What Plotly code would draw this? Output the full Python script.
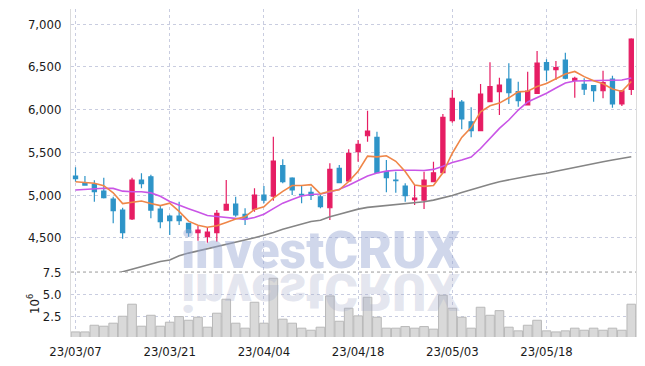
import plotly.graph_objects as go

dates = ["23/03/07", "23/03/08", "23/03/09", "23/03/10", "23/03/13", "23/03/14", "23/03/15", "23/03/16", "23/03/17", "23/03/20",
         "23/03/21", "23/03/22", "23/03/23", "23/03/24", "23/03/27", "23/03/28", "23/03/29", "23/03/30", "23/03/31", "23/04/03",
         "23/04/04", "23/04/05", "23/04/06", "23/04/07", "23/04/10", "23/04/11", "23/04/12", "23/04/13", "23/04/14", "23/04/17",
         "23/04/18", "23/04/19", "23/04/20", "23/04/21", "23/04/24", "23/04/25", "23/04/26", "23/04/27", "23/04/28", "23/05/02",
         "23/05/03", "23/05/04", "23/05/08", "23/05/09", "23/05/10", "23/05/11", "23/05/12", "23/05/15", "23/05/16", "23/05/17",
         "23/05/18", "23/05/19", "23/05/22", "23/05/23", "23/05/24", "23/05/25", "23/05/26", "23/05/30", "23/05/31", "23/06/01"]

opens = [5222, 5140, 5125, 5047, 4953, 4824, 4719, 5176, 5214, 4836,
         4754, 4754, 4669, 4559, 4512, 4559, 4824, 4895, 4774, 4836,
         5000, 4988, 5343, 5199, 5008, 5032, 4980, 4851, 5313, 5164,
         5507, 5694, 5676, 5273, 5176, 5105, 4945, 4941, 5156, 5261,
         5870, 6089, 5858, 5753, 6093, 6210, 6358, 6210, 6054, 6191,
         6549, 6467, 6581, 6343, 6296, 6280, 6221, 6358, 6066, 6238]
highs = [5324, 5222, 5172, 5203, 4980, 4851, 5203, 5254, 5238, 4883,
         4770, 4922, 4669, 4637, 4622, 4824, 5176, 4980, 4844, 5078,
         5105, 5683, 5418, 5207, 5105, 5090, 5000, 5371, 5351, 5535,
         5644, 5987, 5741, 5410, 5273, 5137, 5117, 5273, 5390, 5949,
         6230, 6112, 6027, 6300, 6554, 6374, 6542, 6327, 6444, 6686,
         6589, 6569, 6666, 6386, 6367, 6288, 6456, 6397, 6230, 6835]
lows = [5156, 5109, 4922, 4960, 4669, 4488, 4707, 5078, 4727, 4610,
        4532, 4649, 4512, 4465, 4441, 4453, 4816, 4746, 4649, 4805,
        4903, 4933, 5137, 5000, 4903, 4941, 4844, 4707, 5137, 5156,
        5390, 5624, 5254, 5032, 5027, 4922, 4883, 4836, 5156, 5261,
        5847, 5769, 5676, 5753, 6093, 5937, 6066, 6034, 6054, 6191,
        6335, 6347, 6355, 6139, 6171, 6093, 6132, 6022, 6042, 6171]
closes = [5191, 5117, 5039, 4968, 4816, 4559, 5176, 5132, 4824, 4687,
          4699, 4699, 4559, 4590, 4567, 4786, 4891, 4766, 4719, 5000,
          4941, 5398, 5156, 5059, 5000, 4996, 4863, 5301, 5144, 5488,
          5594, 5749, 5261, 5203, 5168, 4992, 4965, 5176, 5261, 5910,
          6132, 5890, 5753, 6183, 6268, 6288, 6198, 6104, 6218, 6546,
          6464, 6491, 6367, 6367, 6241, 6221, 6315, 6066, 6221, 6827]

ma5 = [5156, 5148, 5137, 5110, 5026, 4900, 4912, 4930, 4901, 4876,
       4904, 4808, 4694, 4647, 4623, 4640, 4679, 4720, 4746, 4832,
       4863, 4965, 5043, 5111, 5111, 5122, 5015, 5044, 5061, 5158,
       5278, 5455, 5447, 5459, 5395, 5275, 5118, 5101, 5112, 5261,
       5489, 5674, 5789, 5974, 6045, 6076, 6138, 6208, 6215, 6271,
       6306, 6365, 6417, 6447, 6386, 6337, 6302, 6242, 6213, 6330]
ma20 = [5059, 5068, 5076, 5080, 5078, 5045, 5039, 5039, 5025, 4985,
        4925, 4880, 4840, 4800, 4760, 4748, 4739, 4725, 4715, 4736,
        4775, 4840, 4905, 4948, 4988, 5006, 5012, 5035, 5068, 5115,
        5170, 5222, 5258, 5280, 5290, 5294, 5290, 5287, 5300, 5338,
        5380, 5410, 5445, 5545, 5665, 5780, 5878, 5995, 6089, 6136,
        6191, 6253, 6311, 6335, 6337, 6337, 6337, 6337, 6347, 6370]
ma60 = [3950, 3980, 4010, 4040, 4070, 4100, 4135, 4165, 4195, 4222,
        4240, 4290, 4320, 4345, 4370, 4395, 4420, 4445, 4470, 4500,
        4530, 4560, 4600, 4630, 4665, 4690, 4705, 4745, 4775, 4805,
        4835, 4855, 4865, 4880, 4890, 4900, 4912, 4922, 4940, 4965,
        4995, 5030, 5059, 5090, 5125, 5156, 5180, 5200, 5220, 5240,
        5254, 5278, 5302, 5326, 5350, 5370, 5390, 5410, 5430, 5449]

volume_m = [0.78, 0.78, 1.53, 1.42, 1.76, 2.54, 3.89, 1.42, 2.65, 1.42,
            1.87, 2.50, 2.09, 2.43, 1.31, 2.88, 4.45, 1.76, 1.20, 4.11,
            1.76, 6.80, 2.21, 1.76, 1.20, 0.97, 1.31, 4.82, 1.98, 3.44,
            2.58, 4.67, 2.43, 1.20, 1.20, 1.38, 1.20, 1.38, 1.09, 4.90,
            3.44, 2.43, 1.20, 3.55, 2.65, 3.17, 1.31, 0.90, 1.53, 2.09,
            0.90, 0.78, 0.90, 1.20, 0.97, 1.20, 0.97, 1.20, 0.97, 3.89]

tick_idx = [0, 10, 20, 30, 40, 50]
price_ticks = [4500, 5000, 5500, 6000, 6500, 7000]
vol_ticks = [2.5, 5.0, 7.5]

UP = "#e61d63"
DOWN = "#2e94c8"
GRID = "#c9cde0"
FONT = "DejaVu Sans Condensed, DejaVu Sans, sans-serif"
TICKFONT = dict(family=FONT, size=13, color="#1a1a1a")

fig = go.Figure()
fig.add_trace(go.Candlestick(
    x=dates, open=opens, high=highs, low=lows, close=closes,
    increasing=dict(line=dict(color=UP, width=1.2), fillcolor=UP),
    decreasing=dict(line=dict(color=DOWN, width=1.2), fillcolor=DOWN),
    whiskerwidth=0, xaxis="x", yaxis="y", showlegend=False))
fig.add_trace(go.Scatter(x=dates, y=ma60, mode="lines", line=dict(color="#858585", width=1.6),
                         xaxis="x", yaxis="y", showlegend=False))
fig.add_trace(go.Scatter(x=dates, y=ma20, mode="lines", line=dict(color="#c955e6", width=1.6),
                         xaxis="x", yaxis="y", showlegend=False))
fig.add_trace(go.Scatter(x=dates, y=ma5, mode="lines", line=dict(color="#ef8648", width=1.6),
                         xaxis="x", yaxis="y", showlegend=False))
fig.add_trace(go.Bar(x=dates, y=volume_m, xaxis="x", yaxis="y2", showlegend=False,
                     marker=dict(color="#d9d9d9", line=dict(color="#b9b9b9", width=1))))

fig.update_layout(
    width=645, height=366,
    margin=dict(l=71, r=9, t=9, b=29, autoexpand=False),
    paper_bgcolor="white", plot_bgcolor="white",
    showlegend=False, boxgap=0.37, bargap=0.08,
    font=dict(family=FONT, size=13, color="#1a1a1a"),
    xaxis=dict(type="category", range=[-0.48, 59.5], anchor="y2", automargin=False,
               tickmode="array", tickvals=[dates[i] for i in tick_idx],
               ticktext=[dates[i] for i in tick_idx],
               showgrid=True, gridcolor=GRID, griddash="dot", gridwidth=1,
               rangeslider=dict(visible=False), showline=False, zeroline=False,
               ticks="", ticklabelstandoff=5, tickfont=TICKFONT),
    yaxis=dict(domain=[0.198, 1], range=[4098, 7178], tickvals=price_ticks, tickformat=",",
               automargin=False,
               showgrid=True, gridcolor=GRID, griddash="dot", gridwidth=1,
               showline=True, linecolor="#dcdcdc", linewidth=1, mirror=True,
               zeroline=False, ticks="", ticklabelstandoff=6, tickfont=TICKFONT),
    yaxis2=dict(domain=[0, 0.198], range=[0.21, 7.5], tickvals=vol_ticks, tickformat=".1f",
                automargin=False,
                showgrid=True, gridcolor=GRID, griddash="dot", gridwidth=1,
                showline=True, linecolor="#dcdcdc", linewidth=1, mirror=True,
                zeroline=False, ticks="", ticklabelstandoff=6, tickfont=TICKFONT),
    shapes=[dict(type="line", xref="paper", yref="paper", x0=0, x1=1, y0=0.198, y1=0.198,
                 line=dict(color="#9a9a9a", width=1, dash="dot"))],
    annotations=[
        dict(text="10<sup>6</sup>", xref="paper", yref="paper", x=-0.066, y=0.1,
             xanchor="center", yanchor="middle",
             textangle=-90, showarrow=False, font=dict(family=FONT, size=13, color="#1a1a1a")),
        dict(text="investCRUX", xref="paper", yref="paper", x=0.4425, y=0.198, yanchor="bottom",
             yshift=-11, showarrow=False,
             font=dict(family="Roboto", size=52, color="rgba(150,166,210,0.45)", weight=900)),
        dict(text="investCRUX", xref="paper", yref="paper", x=0.4425, y=0.198, yanchor="top",
             yshift=13, showarrow=False,
             font=dict(family="Roboto", size=52, color="rgba(160,168,200,0.28)", weight=900)),
    ],
)

post = """
(function(){
  document.documentElement.style.margin = '0';
  document.documentElement.style.padding = '0';
  document.body.style.margin = '0';
  document.body.style.padding = '0';
  document.body.style.overflow = 'hidden';
  var gd = document.getElementById('{plot_id}');
  function flip(){
    try {
      var t = gd.querySelector('g.annotation[data-index="2"] text.annotation-text');
      if (!t) return;
      t.style.transformBox = 'fill-box';
      t.style.transformOrigin = 'center';
      t.style.transform = 'scaleY(-1)';
    } catch(e) {}
  }
  flip();
  setTimeout(flip, 0);
  if (gd && gd.on) gd.on('plotly_afterplot', flip);
})();
"""

fig.write_html("out.html", post_script=post, config={"displayModeBar": False})
